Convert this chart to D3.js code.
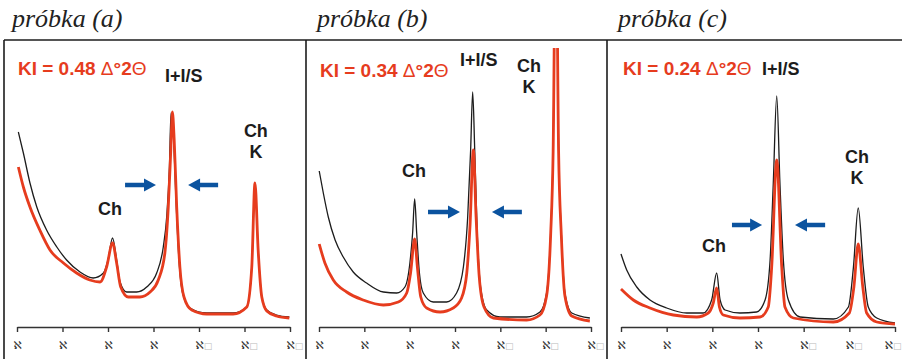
<!DOCTYPE html>
<html lang="pl">
<head>
<meta charset="utf-8">
<title>KI - próbki</title>
<script src="https://cdn.jsdelivr.net/npm/d3@7"></script>
<style>
  body { margin: 0; background: #fff; }
</style>
</head>
<body>
<script>

// -- Data -- //

const samples = ["a", "b", "c"];
const kiValues = ["0.48", "0.34", "0.24"];
const tickValues = [2, 4, 6, 8, 10, 12, 14];

// [°2θ, intensity]
const aBlack = [
  [2.06, 195], [2.28, 174], [2.57, 144], [2.87, 120], [3.3, 97], [3.75, 80], [4.18, 67],
  [4.77, 55], [5.35, 49], [5.8, 54], [6.0, 67], [6.2, 89], [6.38, 67], [6.53, 45],
  [6.82, 35], [7.26, 35], [7.7, 40], [8.14, 54], [8.43, 80], [8.58, 110], [8.7, 160],
  [8.77, 214], [8.87, 194], [8.99, 127], [9.12, 67], [9.28, 34], [9.6, 19], [10.34, 14],
  [11.5, 14], [12.1, 20], [12.32, 60], [12.46, 144], [12.6, 77], [12.76, 30], [12.98, 17],
  [13.4, 12], [13.97, 10]
];
const aRed = [
  [2.06, 160], [2.28, 140], [2.57, 120], [3.0, 97], [3.45, 77], [4.04, 64], [4.62, 54],
  [5.2, 47], [5.65, 45], [5.94, 60], [6.2, 84], [6.38, 64], [6.56, 40], [6.89, 30],
  [7.4, 30], [7.85, 35], [8.21, 47], [8.5, 74], [8.65, 120], [8.76, 177], [8.83, 215],
  [8.91, 187], [9.02, 120], [9.16, 60], [9.34, 30], [9.68, 17], [10.34, 13], [11.5, 13],
  [12.1, 20], [12.32, 60], [12.46, 144], [12.6, 77], [12.76, 30], [12.98, 16], [13.4, 11],
  [13.97, 9]
];

const bBlack = [
  [2.01, 156], [2.19, 134], [2.41, 110], [2.71, 87], [3.07, 70], [3.51, 55], [4.1, 44],
  [4.84, 35], [5.43, 34], [5.79, 40], [6.01, 64], [6.13, 94], [6.22, 128], [6.31, 94],
  [6.43, 54], [6.6, 34], [7.04, 25], [7.63, 25], [8.07, 34], [8.37, 60], [8.56, 110],
  [8.69, 177], [8.78, 235], [8.87, 177], [8.98, 94], [9.13, 40], [9.4, 17], [9.98, 10],
  [11.16, 10], [11.75, 15], [12.04, 34], [12.22, 94], [12.33, 177], [12.45, 420],
  [12.57, 177], [12.69, 94], [12.85, 34], [13.15, 14], [13.95, 9]
];
const bRed = [
  [2.01, 83], [2.26, 64], [2.63, 47], [3.22, 35], [3.95, 27], [4.84, 22], [5.5, 25],
  [5.87, 34], [6.04, 54], [6.22, 88], [6.34, 60], [6.49, 30], [6.75, 19], [7.34, 15],
  [7.92, 19], [8.29, 29], [8.52, 54], [8.66, 100], [8.81, 177], [8.93, 110], [9.07, 50],
  [9.28, 20], [9.69, 9], [11.16, 7], [11.75, 12], [12.04, 31], [12.22, 92], [12.33, 176],
  [12.45, 420], [12.57, 176], [12.69, 92], [12.85, 31], [13.15, 11], [13.95, 6]
];

const cBlack = [
  [2.0, 73], [2.25, 57], [2.69, 40], [3.27, 27], [4.0, 19], [4.88, 14], [5.6, 14],
  [5.97, 27], [6.19, 54], [6.34, 27], [6.56, 17], [7.21, 14], [7.94, 15], [8.31, 27],
  [8.53, 67], [8.67, 144], [8.82, 231], [8.96, 144], [9.11, 67], [9.33, 27], [9.84, 10],
  [11.3, 8], [11.96, 20], [12.18, 60], [12.39, 119], [12.61, 60], [12.83, 20], [13.2, 9],
  [14.0, 4]
];
const cRed = [
  [2.0, 38], [2.54, 27], [3.27, 19], [4.29, 12], [5.32, 10], [5.82, 14], [6.04, 24],
  [6.19, 39], [6.31, 20], [6.48, 12], [7.21, 9], [8.09, 10], [8.45, 20], [8.6, 60],
  [8.82, 167], [9.04, 60], [9.18, 20], [9.55, 9], [11.3, 5], [12.0, 14], [12.2, 40],
  [12.39, 83], [12.59, 40], [12.76, 14], [13.2, 5], [14.0, 3]
];

const blackSeries = [aBlack, bBlack, cBlack];
const redSeries = [aRed, bRed, cRed];

// -- Setting -- //

const canvasWidth = 902;
const canvasHeight = 359;

const red = "#e63c1e";
const blue = "#0b539f";
const ink = "#1c1c1c";

const axisY = 327;
const frameTop = 40;
const clipTop = 48;

// label / arrow placement for each panel, in chart units
const layout = [
  { left: 17, right: 290, title: 12, sep: 4,
    ki: [2.04, 252], ils: [8.5, 245], ch: [6.09, 112], chk: [12.5, 190],
    arrowY: 142, arrowRight: [6.75, 8.11], arrowLeft: [9.52, 10.84] },
  { left: 319, right: 591, title: 317, sep: 306,
    ki: [2.04, 250], ils: [8.22, 261], ch: [6.19, 150], chk: [11.26, 255],
    arrowY: 115, arrowRight: [6.81, 8.22], arrowLeft: [9.63, 10.95] },
  { left: 621, right: 895, title: 618, sep: 607,
    ki: [2.09, 252], ils: [8.18, 252], ch: [6.07, 75], chk: [12.34, 164],
    arrowY: 102, arrowRight: [6.86, 8.18], arrowLeft: [9.62, 10.94] }
];

const canvas = d3.select("body")
  .append("svg")
  .attr("width", canvasWidth)
  .attr("height", canvasHeight)
  .style("display", "block");

canvas.append("rect")
  .attr("width", canvasWidth)
  .attr("height", canvasHeight)
  .attr("fill", "#fff");

// frame: top rule and panel separators
canvas.append("line")
  .attr("x1", 4).attr("x2", canvasWidth)
  .attr("y1", frameTop).attr("y2", frameTop)
  .attr("stroke", ink).attr("stroke-width", 1.6);

canvas.selectAll("line.sep")
  .data(layout)
  .join("line")
  .attr("class", "sep")
  .attr("x1", d => d.sep).attr("x2", d => d.sep)
  .attr("y1", frameTop).attr("y2", canvasHeight)
  .attr("stroke", ink).attr("stroke-width", 1.6);

const y = d3.scaleLinear()
  .domain([0, 287])
  .range([axisY, frameTop]);

function arrowPath(x0, x1, yy) {
  // x0 = tail, x1 = tip
  const dir = x1 > x0 ? 1 : -1;
  const headLen = 12, shaft = 2.3, head = 6.5;
  const hx = x1 - dir * headLen;
  return `M${x0},${yy - shaft} L${hx},${yy - shaft} L${hx},${yy - head} L${x1},${yy} ` +
         `L${hx},${yy + head} L${hx},${yy + shaft} L${x0},${yy + shaft} Z`;
}

// -- Visualisation -- //

samples.forEach(function(s, i) {
  const L = layout[i];

  const x = d3.scaleLinear()
    .domain([2, 14])
    .range([L.left, L.right]);

  const g = canvas.append("g");

  // title
  g.append("text")
    .attr("x", L.title)
    .attr("y", 27)
    .attr("font-family", "'Liberation Serif', 'DejaVu Serif', serif")
    .attr("font-style", "italic")
    .attr("font-size", 26)
    .attr("fill", "#222")
    .text(`próbka (${s})`);

  // axis
  const axis = d3.axisBottom(x)
    .tickValues(tickValues)
    .tickSize(5)
    .tickSizeOuter(0)
    .tickFormat(() => "");

  const ax = g.append("g")
    .attr("transform", `translate(0,${axisY})`)
    .call(axis);
  ax.select(".domain").attr("stroke", "#333").attr("stroke-width", 1.4);
  ax.selectAll(".tick line").attr("stroke", "#333").attr("stroke-width", 1.4);

  ax.selectAll(".tick text")
    .attr("y", 14)
    .attr("dy", "0.71em")
    .attr("font-family", "'DejaVu Sans', sans-serif")
    .attr("font-size", 11)
    .attr("fill", "#333")
    .each(function(d) {
      const t = d3.select(this);
      t.text(null);
      t.append("tspan").text("ℵ");
      if (d >= 10) {
        const last = d === tickValues[tickValues.length - 1] && i === samples.length - 1;
        t.attr("text-anchor", last ? "end" : "start").attr("x", last ? 6 : -4);
        t.append("tspan").attr("fill", "#bbb").attr("font-size", 9).text("□");
      } else {
        t.attr("text-anchor", "middle").attr("x", 0);
      }
    });

  // curves
  const clipId = "clip-" + s;
  g.append("clipPath")
    .attr("id", clipId)
    .append("rect")
    .attr("x", L.left - 2)
    .attr("y", clipTop)
    .attr("width", L.right - L.left + 4)
    .attr("height", axisY - clipTop - 1);

  const line = d3.line()
    .x(d => x(d[0]))
    .y(d => y(d[1]))
    .curve(d3.curveMonotoneX);

  const plot = g.append("g").attr("clip-path", `url(#${clipId})`);

  plot.append("path")
    .datum(blackSeries[i])
    .attr("d", line)
    .attr("fill", "none")
    .attr("stroke", ink)
    .attr("stroke-width", 1.3)
    .attr("stroke-linejoin", "round");

  plot.append("path")
    .datum(redSeries[i])
    .attr("d", line)
    .attr("fill", "none")
    .attr("stroke", red)
    .attr("stroke-width", 2.8)
    .attr("stroke-linejoin", "round");

  // arrows
  const ay = y(L.arrowY);
  g.append("path")
    .attr("d", arrowPath(x(L.arrowRight[0]), x(L.arrowRight[1]), ay))
    .attr("fill", blue);
  g.append("path")
    .attr("d", arrowPath(x(L.arrowLeft[1]), x(L.arrowLeft[0]), ay))
    .attr("fill", blue);

  // labels
  const bold = g.append("g")
    .attr("font-family", "'Liberation Sans', Arial, sans-serif")
    .attr("font-weight", "bold");

  const ki = bold.append("text")
    .attr("x", x(L.ki[0]))
    .attr("y", y(L.ki[1]))
    .attr("font-size", 19)
    .attr("fill", red);
  ki.append("tspan").text(`KI = ${kiValues[i]} `);
  ki.append("tspan").attr("font-weight", "normal").text("Δ");
  ki.append("tspan").text("°2");
  ki.append("tspan").attr("font-weight", "normal").text("Θ");

  bold.append("text")
    .attr("x", x(L.ils[0]))
    .attr("y", y(L.ils[1]))
    .attr("font-size", 18)
    .attr("fill", ink)
    .text("I+I/S");

  bold.append("text")
    .attr("x", x(L.ch[0]))
    .attr("y", y(L.ch[1]))
    .attr("font-size", 18)
    .attr("fill", ink)
    .attr("text-anchor", "middle")
    .text("Ch");

  const chk = bold.append("text")
    .attr("x", x(L.chk[0]))
    .attr("y", y(L.chk[1]))
    .attr("font-size", 18)
    .attr("fill", ink)
    .attr("text-anchor", "middle");
  chk.append("tspan").text("Ch");
  chk.append("tspan").attr("x", x(L.chk[0])).attr("dy", 20.5).text("K");
});

</script>
</body>
</html>
